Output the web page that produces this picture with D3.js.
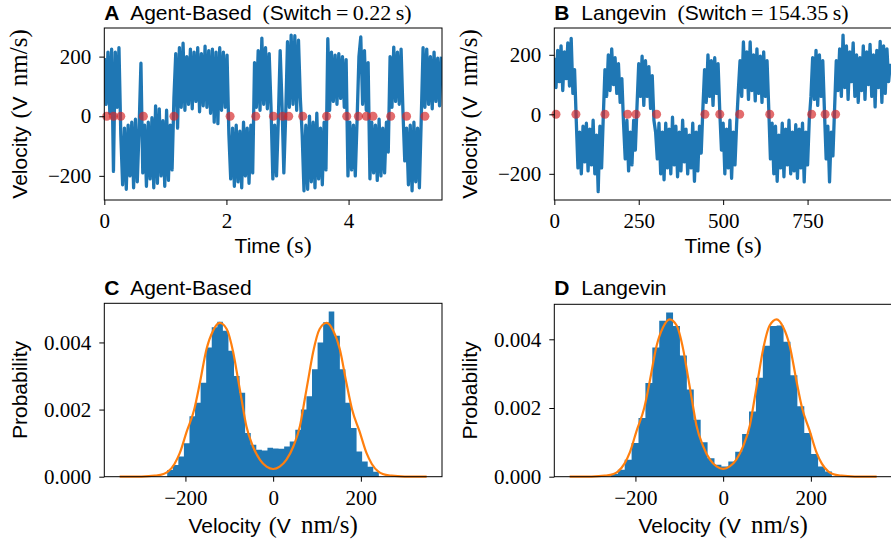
<!DOCTYPE html>
<html>
<head>
<meta charset="utf-8">
<script src="https://cdn.jsdelivr.net/npm/d3@7"></script>
<style>
	body { margin: 0; background: #fff; }
	svg { display: block; }
	text { white-space: pre; }
</style>
</head>
<body>
<svg id="fig" width="891" height="545"></svg>
<script>
// --- panel A: agent-based velocity trace (one sample every 0.03 s) ---
var timeStepA = 0.03;
var velocityA = [
	195, 40, 215, 10, 225, -185, 215, 30, 230, -60,
	-230, -40, -245, -30, -200, -20, -240, -10, -220, -40,
	178, -190, -30, -235, -20, -210, -5, -240, 35, -225,
	25, -200, -15, -235, 20, -215, -30, -180, 60, 210,
	-40, 230, 30, 245, 20, 200, 40, 225, 25, 215,
	50, 230, 15, 210, 35, 235, 30, 220, 10, 225,
	-20, 215, -25, 230, 20, 215, 30, 205, -60, -210,
	-40, -235, -30, -220, -50, -240, -20, -200, -40, -225,
	-30, -190, 180, 30, 220, 20, 262, 40, 230, 25,
	210, 30, -210, -30, -200, -10, 220, 40, -190, 0,
	250, 30, 272, 40, 270, 20, 255, 60, -60, -250,
	-30, -245, 0, -220, -20, -240, 10, -210, -40, -230,
	-20, -180, 260, 20, 215, 50, 205, 40, 210, 60,
	200, 30, 190, -200, -20, -180, -30, -200, -10, 200,
	266, 40, 220, 20, 180, -210, -20, -190, -30, -215,
	-10, -200, -40, -190, -20, -120, 200, 30, 232, 50,
	215, 40, 225, 20, -150, -40, -230, -30, -250, -20,
	-220, -40, -240, -10, 230, 30, 225, 40, 200, 25,
	215, 50, 195, 35, 200
];
var switchTimesA = [0.04, 0.15, 0.27, 0.64, 1.14, 2.06, 2.48, 2.77, 2.92, 3.02, 3.25, 3.64, 3.97, 4.16, 4.29, 4.40, 4.69, 4.95, 5.25];

// --- panel B: Langevin velocity trace (one sample every 5 s) ---
var timeStepB = 5;
var velocityB = [
	190, 90, 215, 110, 230, 80, 210, 120, 240, 95,
	255, 70, 150, -20, -180, -60, -200, -40, -160, -30,
	-190, -50, -170, -20, -200, -70, -260, -40, -180, -10,
	150, 60, 200, 80, 220, 100, 190, 70, 170, 40,
	120, -30, -150, -20, -190, -60, -170, -20, -120, 30,
	170, 60, 195, 30, 180, 60, 160, 20, 130, -20,
	-60, -150, -30, -200, -60, -220, -30, -180, -50, -200,
	-10, -170, -40, -210, -60, -190, -20, -160, -50, -200,
	-70, -180, -30, -225, -60, -190, -40, -130, 20, 150,
	40, 200, 60, 180, 30, 190, 70, 170, 10, -120,
	-30, -200, -50, -180, -20, -215, -60, -170, -30, 80,
	180, 60, 243, 90, 210, 50, 243, 80, 200, 45,
	220, 70, 195, 40, 210, 60, 180, 20, -150, -30,
	-200, -40, -225, -70, -180, -30, -210, -50, -170, -20,
	-200, -60, -190, -35, -215, -50, -180, -30, -227, -60,
	-170, -20, 60, 190, 50, 215, 30, 200, 60, 180,
	10, -150, -40, -227, -60, -140, 20, 180, 80, 220,
	60, 266, 90, 230, 50, 210, 110, 240, 60, 200,
	40, 190, 80, 230, 50, 210, 100, 235, 60, 200,
	25, 215, 90, 245, 40, 230, 70, 220, 110, 170
];
var switchTimesB = [5, 64, 150, 217, 242, 303, 446, 490, 549, 638, 762, 802, 833];

// --- histograms (probability density per bin) ---
var histStartC = -241.6;
var histWidthC = 12.7;
var histC = [
	0.0002, 0.00035, 0.0006, 0.001, 0.0018, 0.0022, 0.0028, 0.00385, 0.00445, 0.00462,
	0.00435, 0.00375, 0.003, 0.0025, 0.0013, 0.00095, 0.0008, 0.00078, 0.00086, 0.00084,
	0.00083, 0.0009, 0.00105, 0.0014, 0.002, 0.0024, 0.0032, 0.004, 0.0046, 0.00492,
	0.0042, 0.0032, 0.0022, 0.00145, 0.00075, 0.00045, 0.0003, 0.00015
];
var histStartD = -256;
var histWidthD = 15.75;
var histD = [
	0.00008, 0.0002, 0.00049, 0.00098, 0.00171, 0.00273, 0.00376, 0.00454, 0.00478, 0.00439,
	0.00353, 0.00254, 0.00166, 0.001, 0.00054, 0.00035, 0.0003, 0.00044, 0.00073, 0.00124,
	0.0019, 0.00288, 0.00381, 0.00439, 0.0044, 0.00393, 0.00295, 0.00205, 0.00127, 0.00066,
	0.0003, 0.00015
];

// --- fitted stationary density (orange curve), same in C and D ---
var fitVelocity = [-350, -300, -270, -250, -240, -225, -213, -197, -180, -167, -152, -137, -122, -106, -91, -80, -72, -61, -46, -30, -15,
	0, 15, 30, 46, 61, 72, 80, 91, 106, 122, 137, 152, 167, 180, 197, 213, 225, 240, 250, 270, 300, 350];
var fitDensity = [0, 0.000005, 0.00003, 0.00008, 0.00015, 0.00038, 0.0007, 0.00135, 0.002, 0.0028, 0.0038, 0.00435, 0.00458, 0.0044, 0.0037, 0.0029, 0.0023, 0.0015, 0.0009, 0.0005, 0.0003,
	0.00023, 0.0003, 0.0005, 0.0009, 0.0015, 0.0023, 0.0029, 0.0037, 0.0044, 0.00458, 0.00435, 0.0038, 0.0028, 0.002, 0.00135, 0.0007, 0.00038, 0.00015, 0.00008, 0.00003, 0.000005, 0];

var switchLabels = ['0.22', '154.35'];

var SANS = "'Liberation Sans', Arial, sans-serif";
var SERIF = "'Liberation Serif', 'Times New Roman', serif";
var BLUE = '#1f77b4';
var ORANGE = '#ff7f0e';

var svg = d3.select('#fig');

// text made of sans / serif pieces, like the LaTeX labels of the original
function richText(parent, x, y, parts, opts) {
	opts = opts || {};
	var text = parent.append('text')
		.attr('x', x)
		.attr('y', y)
		.attr('fill', '#000')
		.attr('text-anchor', opts.anchor || 'start');
	if (opts.rotate) {
		text.attr('transform', 'rotate(-90,' + x + ',' + y + ')');
	}
	parts.forEach(function (p) {
		text.append('tspan')
			.attr('font-family', p.serif ? SERIF : SANS)
			.attr('font-size', p.size || (p.serif ? 24 : 21))
			.attr('font-weight', p.bold ? 'bold' : 'normal')
			.attr('dx', p.dx || null)
			.text(p.t);
	});
	return text;
}

function titleParts(letter, name, switchLabel) {
	var parts = [{ t: letter, bold: true }, { t: ' ' + name, dx: 6 }];
	if (switchLabel) {
		parts.push({ t: ' ' }, { t: '(', serif: true, size: 22, dx: 5 }, { t: 'Switch' },
			{ t: '\u2009=\u2009' + switchLabel + '\u2009s)', serif: true, size: 22 });
	}
	return parts;
}

var velocityLabel = [{ t: 'Velocity ' }, { t: '(', serif: true, dx: 2 }, { t: 'V' }, { t: ' nm/s)', serif: true, size: 25, dx: 4 }];
var timeLabel = [{ t: 'Time ' }, { t: '(s)', serif: true }];
var probLabel = [{ t: 'Probability' }];

function drawAxes(g, x, y, p) {
	var xAxis = d3.axisBottom(x).tickValues(p.xTicks).tickSize(5).tickPadding(8).tickFormat(p.xFormat);
	var yAxis = d3.axisLeft(y).tickValues(p.yTicks).tickSize(5).tickPadding(8).tickFormat(p.yFormat);
	var gx = g.append('g').attr('transform', 'translate(0,' + p.bottom + ')').call(xAxis);
	var gy = g.append('g').attr('transform', 'translate(' + p.left + ',0)').call(yAxis);
	[gx, gy].forEach(function (ax) {
		ax.select('.domain').remove();
		ax.selectAll('line').attr('stroke', '#000').attr('stroke-width', 1);
		ax.selectAll('text')
			.attr('font-family', SERIF)
			.attr('font-size', 21)
			.attr('fill', '#000');
	});
	// box of four spines
	g.append('rect')
		.attr('x', p.left)
		.attr('y', p.top)
		.attr('width', p.right - p.left)
		.attr('height', p.bottom - p.top)
		.attr('fill', 'none')
		.attr('stroke', '#000')
		.attr('stroke-width', 1);

	var mid = (p.left + p.right) / 2;
	richText(g, mid, p.xLabelY, p.xLabel, { anchor: 'middle' });
	richText(g, p.yLabelX, (p.top + p.bottom) / 2, p.yLabel, { anchor: 'middle', rotate: true });
	richText(g, p.left, p.titleY, p.title);
}

function drawTrace(p) {
	var g = svg.append('g');
	var x = d3.scaleLinear().domain(p.xDomain).range([p.left, p.right]);
	var y = d3.scaleLinear().domain(p.yDomain).range([p.bottom, p.top]);
	var clipId = 'clip-' + p.name;
	svg.append('clipPath').attr('id', clipId)
		.append('rect')
		.attr('x', p.left).attr('y', p.top)
		.attr('width', p.right - p.left).attr('height', p.bottom - p.top);

	var line = d3.line()
		.x(function (d, i) { return x(i * p.step); })
		.y(function (d) { return y(d); });

	// thick stroke so the fast noise reads as a filled band, as in the original
	g.append('path')
		.datum(p.values)
		.attr('clip-path', 'url(#' + clipId + ')')
		.attr('d', line)
		.attr('fill', 'none')
		.attr('stroke', BLUE)
		.attr('stroke-width', 3.3)
		.attr('stroke-linejoin', 'round');

	// detected switching events, drawn on the zero line
	g.selectAll('circle.switch')
		.data(p.switches)
		.enter().append('circle')
		.attr('class', 'switch')
		.attr('cx', function (d) { return x(d); })
		.attr('cy', y(0))
		.attr('r', 4.5)
		.attr('fill', '#d62728')
		.attr('fill-opacity', 0.68);

	drawAxes(g, x, y, p);
}

function drawHist(p) {
	var g = svg.append('g');
	var x = d3.scaleLinear().domain(p.xDomain).range([p.left, p.right]);
	var y = d3.scaleLinear().domain([0, d3.max(p.values) * 1.05]).range([p.bottom, p.top]);

	// one stepped outline for all bins, so no seams between neighbouring bars
	var steps = p.values.map(function (d, i) { return { v: p.start + i * p.width, p: d }; });
	steps.push({ v: p.start + p.values.length * p.width, p: p.values[p.values.length - 1] });
	var area = d3.area()
		.x(function (d) { return x(d.v); })
		.y0(y(0))
		.y1(function (d) { return y(d.p); })
		.curve(d3.curveStepAfter);

	g.append('path')
		.datum(steps)
		.attr('d', area)
		.attr('fill', BLUE);

	var curve = d3.line()
		.x(function (d, i) { return x(fitVelocity[i]); })
		.y(function (d) { return y(d); })
		.curve(d3.curveMonotoneX);

	g.append('path')
		.datum(fitDensity)
		.attr('d', curve)
		.attr('fill', 'none')
		.attr('stroke', ORANGE)
		.attr('stroke-width', 2.2);

	drawAxes(g, x, y, p);
}

var fmtInt = d3.format('d');
var fmtProb = d3.format('.3f');

drawTrace({
	name: 'A', values: velocityA, step: timeStepA, switches: switchTimesA,
	left: 104.3, right: 442, top: 28, bottom: 200,
	xDomain: [0, 5.53], yDomain: [-281, 296],
	xTicks: [0, 2, 4], yTicks: [-200, 0, 200], xFormat: fmtInt, yFormat: fmtInt,
	xLabel: timeLabel, yLabel: velocityLabel, xLabelY: 253.3, yLabelX: 27, titleY: 20,
	title: titleParts('A', 'Agent-Based', switchLabels[0])
});

drawTrace({
	name: 'B', values: velocityB, step: timeStepB, switches: switchTimesB,
	left: 554.3, right: 892, top: 28, bottom: 200,
	xDomain: [0, 1000], yDomain: [-288, 290],
	xTicks: [0, 250, 500, 750], yTicks: [-200, 0, 200], xFormat: fmtInt, yFormat: fmtInt,
	xLabel: timeLabel, yLabel: velocityLabel, xLabelY: 253.3, yLabelX: 477, titleY: 20,
	title: titleParts('B', 'Langevin', switchLabels[1])
});

drawHist({
	name: 'C', values: histC, start: histStartC, width: histWidthC,
	left: 104.3, right: 442, top: 303.3, bottom: 476.7,
	xDomain: [-385, 385],
	xTicks: [-200, 0, 200], yTicks: [0, 0.002, 0.004], xFormat: fmtInt, yFormat: fmtProb,
	xLabel: velocityLabel, yLabel: probLabel, xLabelY: 532.5, yLabelX: 27, titleY: 295,
	title: titleParts('C', 'Agent-Based')
});

drawHist({
	name: 'D', values: histD, start: histStartD, width: histWidthD,
	left: 554.3, right: 892, top: 304.3, bottom: 476.7,
	xDomain: [-385, 385],
	xTicks: [-200, 0, 200], yTicks: [0, 0.002, 0.004], xFormat: fmtInt, yFormat: fmtProb,
	xLabel: velocityLabel, yLabel: probLabel, xLabelY: 532.5, yLabelX: 477, titleY: 295,
	title: titleParts('D', 'Langevin')
});
</script>
</body>
</html>
